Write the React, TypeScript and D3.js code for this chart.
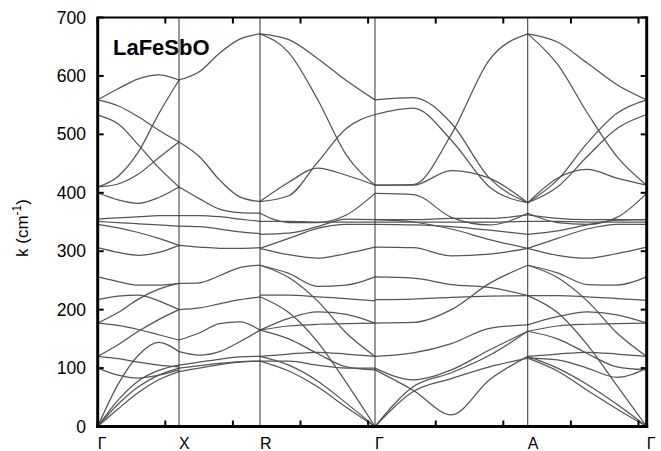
import React from "react";
import * as d3 from "d3";

const W = 661;
const H = 451;
const plotLeft = 97.7;
const plotRight = 646.7;
const plotTop = 17.5;
const plotBottom = 426.5;

const yTicks = [0, 100, 200, 300, 400, 500, 600, 700];
const xTicks = [0, 1, 2, 3, 4, 5, 6, 7, 8];
const symLabels = ["Γ", "X", "R", "Γ", "A", "Γ"];
const symPos = [0, 1.203, 2.401, 4.102, 6.361, 8.121];
const samples = [0, 0.25, 0.5, 0.75, 1];
const title = "LaFeSbO";

// Γ – X
const segGX: number[][] = [
  [559, 578, 595, 602, 593],
  [559, 549, 530, 507, 487],
  [533, 518, 482, 443, 410],
  [410, 428, 470, 535, 593],
  [410, 415, 432, 460, 487],
  [400, 388, 382, 392, 410],
  [355, 357, 359, 361, 361],
  [351, 349, 347, 345, 343],
  [346, 340, 332, 322, 310],
  [306, 298, 293, 298, 310],
  [256, 248, 242, 242, 245],
  [177, 195, 218, 235, 245],
  [217, 223, 225, 215, 200],
  [120, 140, 163, 183, 200],
  [177, 173, 166, 157, 148],
  [120, 116, 110, 105, 102],
  [100, 88, 83, 88, 97],
  [0, 72, 122, 144, 128],
  [0, 45, 78, 96, 105],
  [0, 38, 68, 88, 100],
  [0, 30, 58, 80, 94],
];

// X – R
const segXR: number[][] = [
  [593, 607, 639, 663, 672],
  [487, 462, 422, 393, 385],
  [410, 390, 372, 366, 365],
  [361, 361, 359, 355, 351],
  [343, 342, 338, 333, 330],
  [310, 307, 305, 305, 306],
  [245, 246, 258, 272, 276],
  [200, 203, 210, 217, 222],
  [148, 160, 176, 179, 165],
  [128, 122, 128, 145, 165],
  [105, 110, 115, 119, 120],
  [100, 104, 108, 111, 112],
  [94, 100, 106, 110, 112],
];

// R – Γ
const segRG: number[][] = [
  [672, 662, 630, 592, 559],
  [672, 640, 560, 465, 413],
  [385, 395, 452, 510, 534],
  [385, 418, 442, 430, 413],
  [365, 349, 349, 362, 399],
  [351, 351, 350, 350, 350],
  [329, 331, 342, 355, 354],
  [305, 322, 339, 346, 346],
  [305, 294, 288, 296, 307],
  [276, 262, 240, 242, 256],
  [276, 255, 215, 160, 120],
  [225, 225, 222, 219, 215],
  [165, 185, 196, 192, 177],
  [165, 172, 175, 176, 177],
  [165, 150, 125, 102, 97],
  [120, 124, 127, 124, 120],
  [112, 112, 105, 100, 100],
  [120, 105, 78, 40, 0],
  [112, 95, 68, 33, 0],
  [222, 195, 145, 75, 0],
];

// Γ – A
const segGA: number[][] = [
  [559, 563, 519, 425, 383],
  [534, 545, 490, 410, 383],
  [413, 414, 500, 628, 672],
  [413, 413, 438, 425, 383],
  [399, 397, 358, 345, 365],
  [354, 354, 356, 356, 362],
  [350, 350, 350, 350, 351],
  [346, 345, 342, 336, 329],
  [354, 350, 338, 320, 305],
  [307, 306, 292, 295, 305],
  [256, 254, 243, 238, 224],
  [217, 218, 221, 223, 224],
  [177, 178, 200, 245, 276],
  [120, 126, 142, 168, 174],
  [100, 80, 97, 131, 163],
  [0, 68, 92, 122, 163],
  [0, 60, 82, 102, 117],
  [97, 62, 20, 80, 120],
];

// A – Γ
const segAG: number[][] = [
  [672, 658, 622, 585, 559],
  [672, 620, 537, 462, 413],
  [383, 422, 485, 536, 559],
  [383, 410, 462, 510, 534],
  [383, 425, 440, 425, 413],
  [365, 349, 346, 358, 399],
  [351, 351, 350, 350, 350],
  [362, 356, 354, 354, 354],
  [329, 335, 345, 353, 354],
  [305, 322, 338, 346, 346],
  [305, 293, 288, 296, 307],
  [276, 263, 243, 242, 256],
  [276, 255, 215, 160, 120],
  [224, 224, 222, 219, 216],
  [174, 188, 196, 191, 177],
  [163, 172, 175, 176, 177],
  [163, 150, 125, 102, 97],
  [120, 124, 127, 124, 120],
  [117, 114, 100, 84, 100],
  [120, 100, 72, 38, 0],
  [117, 95, 62, 30, 0],
  [224, 195, 140, 70, 0],
];

const segments = [segGX, segXR, segRG, segGA, segAG];

export default function App() {
  const x = d3.scaleLinear().domain([0, symPos[symPos.length - 1]]).range([plotLeft, plotRight]);
  const y = d3.scaleLinear().domain([0, 700]).range([plotBottom, plotTop]);
  const line = d3
    .line<[number, number]>()
    .x((d) => x(d[0]))
    .y((d) => y(d[1]))
    .curve(d3.curveMonotoneX);

  const paths: string[] = [];
  segments.forEach((seg, si) => {
    const x0 = symPos[si];
    const x1 = symPos[si + 1];
    seg.forEach((vals) => {
      const pts: [number, number][] = vals.map((v, i) => [x0 + samples[i] * (x1 - x0), v]);
      paths.push(line(pts) || "");
    });
  });

  const font = "'Liberation Sans', Arial, Helvetica, sans-serif";

  return (
    <svg
      width={W}
      height={H}
      style={{ position: "absolute", left: 0, top: 0, background: "#fff" }}
      fontFamily={font}
    >
      <rect x={0} y={0} width={W} height={H} fill="#fff" />
      <g fill="none" stroke="#555" strokeWidth={1.25}>
        {paths.map((d, i) => (
          <path key={i} d={d} />
        ))}
      </g>
      <g stroke="#333" strokeWidth={1}>
        {symPos.slice(1, -1).map((p, i) => (
          <line key={i} x1={x(p)} x2={x(p)} y1={plotTop} y2={plotBottom} />
        ))}
      </g>
      <g stroke="#000" strokeWidth={2}>
        {xTicks.map((t) => (
          <g key={t}>
            <line x1={x(t)} x2={x(t)} y1={plotBottom} y2={plotBottom - 6} />
            <line x1={x(t)} x2={x(t)} y1={plotTop} y2={plotTop + 6} />
          </g>
        ))}
        {yTicks.map((t) => (
          <g key={t}>
            <line x1={plotLeft} x2={plotLeft + 6} y1={y(t)} y2={y(t)} />
            <line x1={plotRight} x2={plotRight - 6} y1={y(t)} y2={y(t)} />
          </g>
        ))}
      </g>
      <line x1={plotLeft} x2={plotRight + 1} y1={plotTop} y2={plotTop} stroke="#000" strokeWidth={2} />
      <line x1={plotLeft - 1.5} x2={plotRight + 1.5} y1={plotBottom} y2={plotBottom} stroke="#000" strokeWidth={3} />
      <line x1={plotLeft} x2={plotLeft} y1={plotTop - 1} y2={plotBottom + 1.5} stroke="#000" strokeWidth={3} />
      <line x1={plotRight} x2={plotRight} y1={plotTop - 1} y2={plotBottom + 1.5} stroke="#000" strokeWidth={3} />
      <g fontSize={17.5} textAnchor="end" fill="#000">
        {yTicks.map((t) => (
          <text key={t} x={86} y={y(t) + 6}>
            {t}
          </text>
        ))}
      </g>
      <g fontSize={16} textAnchor="start" fill="#000">
        {symLabels.map((s, i) => (
          <text key={i} x={x(symPos[i])} y={449}>
            {s}
          </text>
        ))}
      </g>
      <text transform="translate(28,228) rotate(-90)" textAnchor="middle" fontSize={17} fill="#000">
        k (cm
        <tspan dy={-7} fontSize={12}>-1</tspan>
        <tspan dy={7}>)</tspan>
      </text>
      <text x={113} y={55} fontSize={22} fontWeight="bold" fill="#000">
        {title}
      </text>
    </svg>
  );
}
